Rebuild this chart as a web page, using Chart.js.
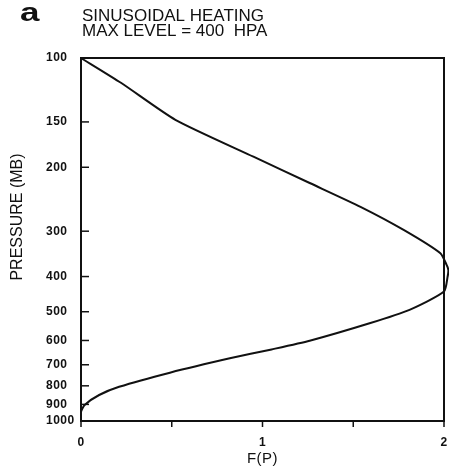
<!DOCTYPE html>
<html>
<head>
<meta charset="utf-8">
<script src="https://cdn.jsdelivr.net/npm/chart.js@4/dist/chart.umd.min.js"></script>
<style>
  html, body { margin: 0; padding: 0; background: #fff; overflow: hidden; }
  #wrap { width: 449px; height: 470px; position: relative; }
  canvas { display: block; }
</style>
</head>
<body>
<div id="wrap"><canvas id="chart"></canvas></div>
<script>
//Pressure levels (mb) and heating profile F(P)
let pressure = [100, 117, 148, 187, 221, 257, 298, 345, 372, 384, 400, 440, 494, 538, 601, 635, 672, 736, 805, 848, 903, 943, 1000];
let fValue = [0, 0.22, 0.52, 0.95, 1.26, 1.54, 1.78, 1.98, 2.015, 2.024, 2.02, 2.0, 1.81, 1.59, 1.26, 1.05, 0.82, 0.49, 0.21, 0.10, 0.02, 0, 0];

//Tick values on both axes
let pressureTicks = [100, 150, 200, 300, 400, 500, 600, 700, 800, 900, 1000];
let fTicks = [0, 0.5, 1, 1.5, 2];
let fTickLabels = ["0", "", "1", "", "2"];

//Title texts
let panelLetter = "a";
let titleLines = ["SINUSOIDAL HEATING", "MAX LEVEL = 400  HPA"];
let yTitle = "PRESSURE (MB)";
let xTitle = "F(P)";

const fontFamily = "'Liberation Sans', Arial, sans-serif";

//Build the points for the curve
let points = [];
for (let i = 0; i < pressure.length; i++) {
  points.push({ x: fValue[i], y: pressure[i] });
}

//Plugin that draws the frame, inward ticks and the texts
const frameAndText = {
  id: "frameAndText",
  beforeDraw(chart) {
    chart.ctx.letterSpacing = "0.5px";
  },
  afterDraw(chart) {
    const ctx = chart.ctx;
    const area = chart.chartArea;
    const xs = chart.scales.x;
    const ys = chart.scales.y;

    ctx.save();
    ctx.letterSpacing = "0px";
    ctx.strokeStyle = "#111";
    ctx.lineWidth = 2;
    ctx.strokeRect(area.left, area.top, area.right - area.left, area.bottom - area.top);

    //Y ticks go inward
    ctx.lineWidth = 1.5;
    pressureTicks.forEach(function (v) {
      const py = ys.getPixelForValue(v);
      ctx.beginPath();
      ctx.moveTo(area.left, py);
      ctx.lineTo(area.left + 8, py);
      ctx.stroke();
    });

    //X ticks go outward
    fTicks.forEach(function (v) {
      const px = xs.getPixelForValue(v);
      ctx.beginPath();
      ctx.moveTo(px, area.bottom);
      ctx.lineTo(px, area.bottom + 6);
      ctx.stroke();
    });

    ctx.fillStyle = "#111";

    //Panel letter
    ctx.save();
    ctx.translate(20, 21);
    ctx.scale(1.4, 1);
    ctx.font = "bold 25px " + fontFamily;
    ctx.textAlign = "left";
    ctx.textBaseline = "alphabetic";
    ctx.fillText(panelLetter, 0, 0);
    ctx.restore();

    //Title lines
    ctx.font = "17px " + fontFamily;
    ctx.textAlign = "left";
    ctx.textBaseline = "alphabetic";
    ctx.fillText(titleLines[0], 82, 21);
    ctx.fillText(titleLines[1], 82, 36);

    //Y axis title
    ctx.save();
    ctx.translate(18, 217);
    ctx.rotate(-Math.PI / 2);
    ctx.font = "16px " + fontFamily;
    ctx.textAlign = "center";
    ctx.textBaseline = "middle";
    ctx.fillText(yTitle, 0, 0);
    ctx.restore();

    ctx.restore();
  }
};

new Chart(document.getElementById("chart"), {
  type: "scatter",
  data: {
    datasets: [{
      data: points,
      showLine: true,
      borderColor: "#111",
      borderWidth: 2,
      pointRadius: 0,
      tension: 0.2,
      clip: false
    }]
  },
  options: {
    responsive: true,
    maintainAspectRatio: false,
    animation: false,
    layout: { padding: { left: 46, right: 5, top: 58, bottom: 0 } },
    plugins: {
      legend: { display: false },
      tooltip: { enabled: false }
    },
    scales: {
      x: {
        type: "linear",
        min: 0,
        max: 2,
        afterBuildTicks: function (scale) {
          scale.ticks = fTicks.map(function (v) { return { value: v }; });
        },
        afterFit: function (scale) {
          //Keep the label padding from eating the plot width
          scale.height = 49;
          scale.paddingLeft = 0;
          scale.paddingRight = 0;
        },
        grid: { display: false, drawTicks: false },
        border: { display: false },
        ticks: {
          autoSkip: false,
          maxRotation: 0,
          padding: 14,
          color: "#111",
          font: { family: fontFamily, size: 12, weight: "bold" },
          callback: function (value, index) {
            return fTickLabels[index];
          }
        },
        title: {
          display: true,
          text: xTitle,
          color: "#111",
          font: { family: fontFamily, size: 15 },
          padding: { top: 0, bottom: 2 }
        }
      },
      y: {
        type: "logarithmic",
        reverse: true,
        min: 100,
        max: 1000,
        afterBuildTicks: function (scale) {
          scale.ticks = pressureTicks.map(function (v) { return { value: v }; });
        },
        afterFit: function (scale) {
          scale.width = 35;
        },
        grid: { display: false, drawTicks: false },
        border: { display: false },
        ticks: {
          autoSkip: false,
          crossAlign: "far",
          padding: 4,
          color: "#111",
          font: { family: fontFamily, size: 12, weight: "bold" },
          callback: function (value) {
            return String(value);
          }
        }
      }
    }
  },
  plugins: [frameAndText]
});
</script>
</body>
</html>
